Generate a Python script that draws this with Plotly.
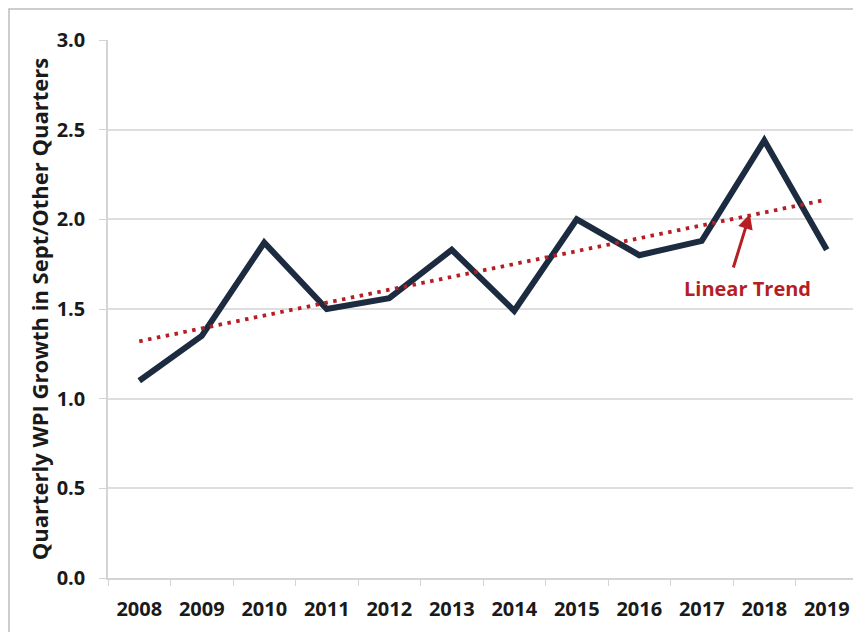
import plotly.graph_objects as go

years = ["2008", "2009", "2010", "2011", "2012", "2013", "2014", "2015", "2016", "2017", "2018", "2019"]
wpi_ratio = [1.10, 1.35, 1.87, 1.50, 1.56, 1.83, 1.49, 2.00, 1.80, 1.88, 2.44, 1.83]
trend_years = ["2008", "2019"]
trend_values = [1.32, 2.11]
y_ticks = [0.0, 0.5, 1.0, 1.5, 2.0, 2.5, 3.0]
y_tick_labels = ["0.0", "0.5", "1.0", "1.5", "2.0", "2.5", "3.0"]

FONT = "Open Sans"
TXT = "#1a1a1a"
RED = "#b51f24"
fig = go.Figure()

fig.add_trace(go.Scatter(
    x=years, y=wpi_ratio, mode="lines",
    line=dict(color="#1c2b3f", width=6),
    showlegend=False, hoverinfo="skip"))

fig.add_trace(go.Scatter(
    x=trend_years, y=trend_values, mode="lines",
    line=dict(color=RED, width=3.8, dash="3.5px,5.5px"),
    showlegend=False, hoverinfo="skip"))

fig.add_annotation(
    x=9.77, y=2.03, xref="x", yref="y", text="",
    showarrow=True, arrowhead=2, arrowsize=1, arrowwidth=3,
    arrowcolor=RED, ax=-17, ay=55, axref="pixel", ayref="pixel")

fig.add_annotation(
    x=9.73, y=1.615, xref="x", yref="y", text="<b>Linear Trend</b>",
    showarrow=False, font=dict(family=FONT, size=20, color=RED))

# outer frame around the whole chart
fig.add_shape(type="rect", xref="paper", yref="paper",
              x0=-99 / 750, x1=1.2, y0=-0.2, y1=1 + 31 / 538,
              line=dict(color="#bdbdbd", width=1.5), layer="below")

fig.update_layout(
    width=861, height=632,
    margin=dict(l=100, r=11, t=32, b=62, autoexpand=False),
    paper_bgcolor="white", plot_bgcolor="white",
    font=dict(family=FONT, color=TXT),
    xaxis=dict(
        type="category", categoryorder="array", categoryarray=years,
        range=[-0.5, 11.5], automargin=False,
        showgrid=False, showline=True, linecolor="#d4d4d4", linewidth=1.5,
        ticks="outside", ticklen=6, tickcolor="#d4d4d4", tickson="boundaries",
        ticklabelstandoff=12,
        tickfont=dict(family=FONT, size=20, color=TXT),
        tickprefix="<b>", ticksuffix="</b>",
    ),
    yaxis=dict(
        range=[0, 3.0], tickvals=y_ticks, ticktext=["<b>" + t + "</b>" for t in y_tick_labels],
        automargin=False,
        showgrid=True, gridcolor="#dedede", gridwidth=1.5,
        showline=True, linecolor="#d4d4d4", linewidth=1.5,
        ticks="outside", ticklen=7, tickcolor="#d4d4d4",
        ticklabelstandoff=10,
        tickfont=dict(family=FONT, size=20, color=TXT),
        zeroline=False,
        title=dict(text="<b>Quarterly WPI Growth in Sept/Other Quarters</b>",
                   font=dict(family=FONT, size=22, color=TXT), standoff=2),
    ),
)

fig.write_html("out.html")
